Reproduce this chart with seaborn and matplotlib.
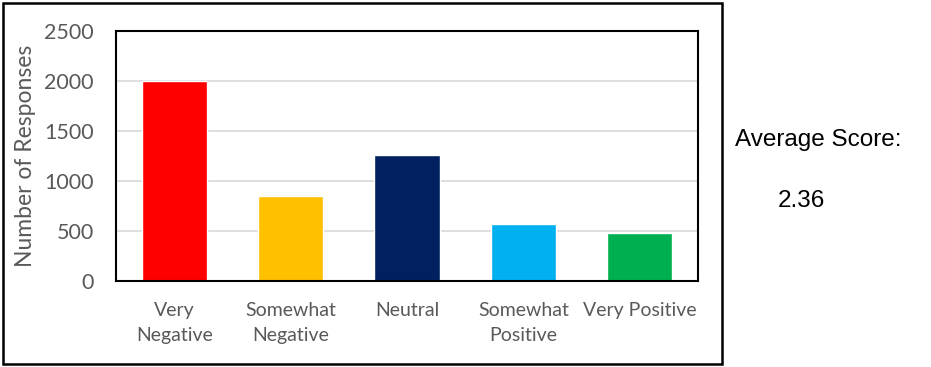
import matplotlib
matplotlib.use("Agg")
import matplotlib.pyplot as plt
import seaborn as sns
import pandas as pd
from matplotlib.patches import Rectangle

categories = ["Very\nNegative", "Somewhat\nNegative", "Neutral", "Somewhat\nPositive", "Very Positive"]
responses = [2000, 850, 1260, 567, 480]
bar_colors = ["#FF0000", "#FFC000", "#002060", "#00B0F0", "#00B050"]
y_ticks = [0, 500, 1000, 1500, 2000, 2500]
average_score = "2.36"

sns.set_theme(style="white")
plt.rcParams["font.family"] = ["Lato", "DejaVu Sans"]

df = pd.DataFrame({"category": categories, "responses": responses})

fig = plt.figure(figsize=(9.31, 3.67), dpi=100)
W, H = 931, 367
ax = fig.add_axes([116 / W, 1 - 281 / H, (698 - 116) / W, (281 - 31) / H])

sns.barplot(data=df, x="category", y="responses", hue="category",
            palette=bar_colors, legend=False, width=0.56, saturation=1, ax=ax)

ax.set_ylim(0, 2500)
ax.set_yticks(y_ticks)
ax.yaxis.grid(True, color="#D9D9D9", linewidth=1.2)
ax.set_axisbelow(True)
for side in ["left", "bottom", "top", "right"]:
    ax.spines[side].set_visible(True)
    ax.spines[side].set_color("black")
    ax.spines[side].set_linewidth(1.5)

ax.set_xlabel("")
ax.set_ylabel("Number of Responses", fontsize=16.5, color="#595959", labelpad=6)
ax.tick_params(axis="y", labelsize=15.5, labelcolor="#595959", length=0, pad=16)
ax.tick_params(axis="x", labelsize=14, labelcolor="#595959", length=0, pad=15)
for lbl in ax.get_xticklabels():
    lbl.set_linespacing(1.6)

# outer frame around the chart
fig.patches.append(Rectangle((3 / W, 3 / H), (722 - 3) / W, (364 - 3) / H,
                             transform=fig.transFigure, fill=False,
                             edgecolor="black", linewidth=1.8))

fig.text(735 / W, 1 - 140 / H, "Average Score:", fontsize=17.5,
         family="Liberation Sans", color="black", va="center", ha="left")
fig.text(778 / W, 1 - 201 / H, average_score, fontsize=17.5,
         family="Liberation Sans", color="black", va="center", ha="left")

fig.savefig("out.png", dpi=100)
